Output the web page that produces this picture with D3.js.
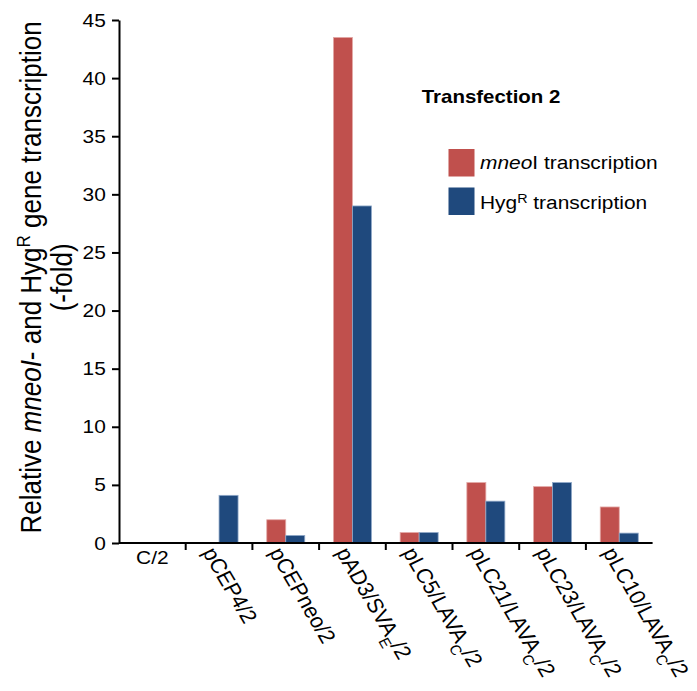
<!DOCTYPE html>
<html>
<head>
<meta charset="utf-8">
<script src="https://cdn.jsdelivr.net/npm/d3@7/dist/d3.min.js"></script>
<style>
  html, body { margin: 0; padding: 0; background: #fff; }
  svg { display: block; font-family: "Liberation Sans", Arial, Helvetica, sans-serif; }
</style>
</head>
<body>
<svg id="chart" width="697" height="691"></svg>
<script>
// Constructs; "main|sub|tail" marks a subscripted part of the name
const categories = [
  "C/2", "pCEP4/2", "pCEPneo/2", "pAD3/SVA|E|/2",
  "pLC5/LAVA|C|/2", "pLC21/LAVA|C|/2", "pLC23/LAVA|C|/2", "pLC10/LAVA|C|/2"
];
const seriesKeys = ["mneo", "hyg"];
// Relative mneoI transcription (-fold)
const mneoValues = [0, 0, 2.0, 43.5, 0.9, 5.2, 4.85, 3.1];
// Relative HygR transcription (-fold)
const hygValues = [0, 4.1, 0.65, 29.0, 0.9, 3.6, 5.2, 0.85];
const yTicks = [0, 5, 10, 15, 20, 25, 30, 35, 40, 45];

const colors = { mneo: "#C0504D", hyg: "#1F497D" };
const edge = { mneo: "#E3A8A6", hyg: "#8FA8C8" };
const SX = 1.1;   // horizontal text stretch
const FS = 19;

const svg = d3.select("#chart");
const plotLeft = 119, plotRight = 652.6, plotTop = 20, plotBottom = 543;

const x = d3.scaleBand().domain(categories).range([plotLeft, plotRight]).padding(0);
const bw = x.bandwidth();
const barW = 19;
const x1 = d3.scaleBand().domain(seriesKeys).range([bw / 2 - barW, bw / 2 + barW]).padding(0);
const y = d3.scaleLinear().domain([0, 45]).range([plotBottom, plotTop]);

const rows = categories.map((c, i) => ({ cat: c, mneo: mneoValues[i], hyg: hygValues[i] }));

// Bars
const groups = svg.append("g").selectAll("g")
  .data(rows).join("g")
  .attr("transform", d => `translate(${x(d.cat)},0)`);
groups.selectAll("rect")
  .data(d => seriesKeys.map(k => ({ key: k, value: d[k] })).filter(e => e.value > 0))
  .join("rect")
  .attr("x", e => x1(e.key))
  .attr("width", x1.bandwidth())
  .attr("y", e => y(e.value))
  .attr("height", e => y(0) - y(e.value))
  .attr("fill", e => colors[e.key])
  .attr("stroke", e => edge[e.key])
  .attr("stroke-width", 0.8);

// Y axis
const yAxis = svg.append("g")
  .attr("transform", `translate(${plotLeft},0)`)
  .call(d3.axisLeft(y).tickValues(yTicks).tickSize(7).tickSizeOuter(0).tickPadding(5));
yAxis.select(".domain").attr("stroke", "#000").attr("stroke-width", 2);
yAxis.selectAll(".tick line").attr("stroke", "#000").attr("stroke-width", 2);
yAxis.selectAll(".tick text")
  .attr("fill", "#000")
  .style("font-size", FS + "px")
  .style("font-family", "'Liberation Sans', Arial, sans-serif")
  .attr("transform", `scale(${SX},1)`);

// X axis
const xAxis = svg.append("g");
xAxis.append("line")
  .attr("x1", plotLeft).attr("x2", plotRight)
  .attr("y1", plotBottom).attr("y2", plotBottom)
  .attr("stroke", "#000").attr("stroke-width", 2);
xAxis.selectAll(".xtick")
  .data(categories.slice(1)).join("line")
  .attr("class", "xtick")
  .attr("x1", d => x(d)).attr("x2", d => x(d))
  .attr("y1", plotBottom).attr("y2", plotBottom + 7)
  .attr("stroke", "#000").attr("stroke-width", 2);

// Category labels
categories.forEach((c, i) => {
  const parts = c.split("|");
  const cx = x(c) + bw / 2;
  let t;
  if (i === 0) {
    t = svg.append("text")
      .attr("transform", `translate(${cx},564) scale(${SX},1)`)
      .attr("text-anchor", "middle")
      .style("font-size", FS + "px");
  } else {
    t = svg.append("text")
      .attr("transform", `translate(${cx - 10},549) scale(${SX},1) rotate(62)`)
      .attr("dy", "0.35em")
      .attr("text-anchor", "start")
      .style("font-size", "20.5px");
  }
  t.attr("fill", "#000");
  t.append("tspan").text(parts[0]);
  if (parts.length > 1) {
    t.append("tspan").attr("baseline-shift", "sub").style("font-size", "14px").text(parts[1]);
    t.append("tspan").text(parts[2]);
  }
});

// Y axis title
const yTitle = svg.append("g").attr("transform", `translate(40.7,277.4) scale(${SX},1) rotate(-90)`);
const l1 = yTitle.append("text").attr("text-anchor", "middle").style("font-size", "26px").attr("fill", "#000");
l1.append("tspan").text("Relative ");
l1.append("tspan").style("font-style", "italic").text("mneoI");
l1.append("tspan").text("- and Hyg");
l1.append("tspan").attr("baseline-shift", "super").style("font-size", "17px").text("R");
l1.append("tspan").text(" gene transcription");
yTitle.append("text").attr("text-anchor", "middle").attr("y", 28.5)
  .style("font-size", "26px").attr("fill", "#000").text("(-fold)");

// Legend
svg.append("text")
  .attr("transform", `translate(421.7,103.3) scale(${SX},1)`)
  .style("font-size", "18.6px").style("font-weight", "bold").attr("fill", "#000")
  .text("Transfection 2");

const legendItems = [
  { key: "mneo", y: 149, base: 169.3 },
  { key: "hyg", y: 187.5, base: 209.3 }
];
legendItems.forEach(it => {
  svg.append("rect")
    .attr("x", 448.5).attr("y", it.y).attr("width", 26).attr("height", 27.5)
    .attr("fill", colors[it.key]);
  const t = svg.append("text")
    .attr("transform", `translate(480,${it.base}) scale(${SX},1)`)
    .style("font-size", FS + "px").attr("fill", "#000");
  if (it.key === "mneo") {
    t.append("tspan").style("font-style", "italic").text("mneo");
    t.append("tspan").text("I transcription");
  } else {
    t.append("tspan").text("Hyg");
    t.append("tspan").attr("baseline-shift", "super").style("font-size", "13px").text("R");
    t.append("tspan").text(" transcription");
  }
});
</script>
</body>
</html>
